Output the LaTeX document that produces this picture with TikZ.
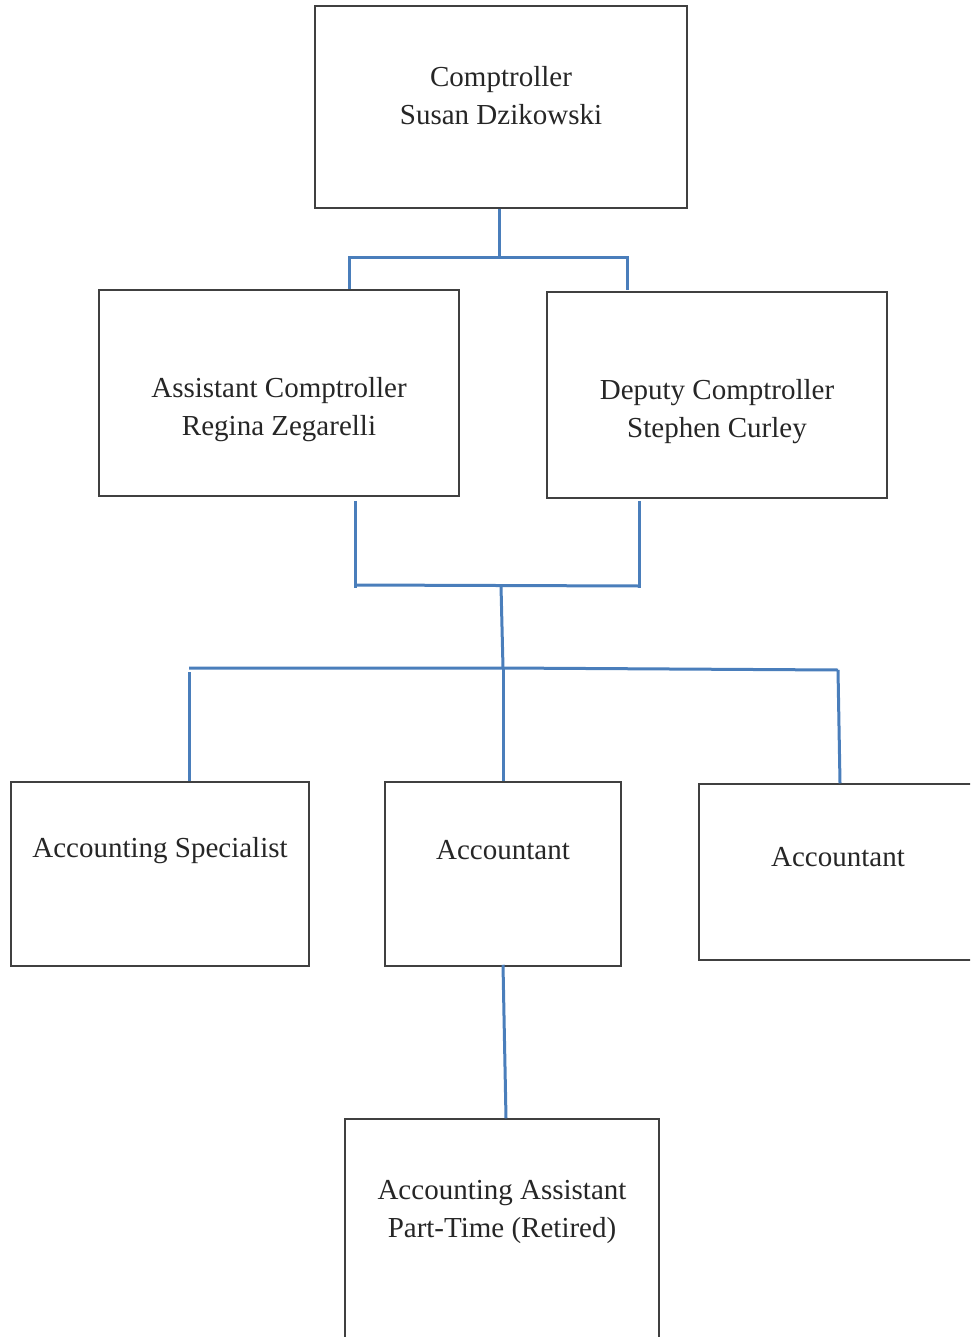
\documentclass[tikz,border=0pt]{standalone}
\usepackage{fontspec}
\setmainfont{Liberation Serif}
\usetikzlibrary{positioning}
\definecolor{linkblue}{RGB}{74,126,187}
\definecolor{boxgray}{RGB}{64,64,64}

\begin{document}
\begin{tikzpicture}[x=1pt, y=-1pt,
  post/.style={draw=boxgray, line width=1.5pt, inner sep=0pt, anchor=center},
  title/.style={font=\fontsize{29}{38}\selectfont, align=center, inner sep=0pt, text=black!85},
  link/.style={draw=linkblue, line width=3pt}]
\useasboundingbox (0,0) rectangle (970,1337);
\clip (0,0) rectangle (970,1337);

\node [post, minimum width=372pt, minimum height=202pt] (comp) at (501,107) {};
\node [post, minimum width=360pt, minimum height=206pt] (asst) at (279,393) {};
\node [post, minimum width=340pt, minimum height=206pt] (dep)  at (717,395) {};
\node [post, minimum width=298pt, minimum height=184pt] (spec) at (160,874) {};
\node [post, minimum width=236pt, minimum height=184pt] (accA) at (503,874) {};
\node [post, minimum width=278pt, minimum height=176pt] (accB) at (838,872) {};
\node [post, minimum width=314pt, minimum height=260pt] (part) at (502,1249) {};

\node [title] (compt) at (501,96)  {Comptroller\\Susan Dzikowski};
\node [title] (asstt) at (279,410) {Assistant Comptroller\\Regina Zegarelli};
\node [title] (dept)  at (717,412) {Deputy Comptroller\\Stephen Curley};
\node [title] (spect) at (160,851) {Accounting Specialist};
\node [title] (accAt) at (503,850) {Accountant};
\node [title] (accBt) at (838,857) {Accountant};
\node [title] (partt) at (502,1212) {Accounting Assistant\\Part-Time (Retired)};

% first level
\coordinate (j1) at (499,258);
\coordinate (b1l) at (349,258);
\coordinate (b1r) at (627,258);
\draw [link] (j1 |- comp.south) -- (j1);
\draw [link] (asst.north -| b1l) -- (b1l) -- (b1r) -- ([yshift=1pt]dep.north -| b1r);

% second level
\coordinate (c1) at (355,585);
\coordinate (c2) at (639,586);
\coordinate (m1) at (501,586);
\draw [link] ([yshift=-4pt]asst.south -| c1) -- ([yshift=-3pt]c1);
\draw [link] ([yshift=-2pt]dep.south -| c2) -- ([yshift=-2pt]c2);
\draw [link] (c1) -- (c2);

% third level
\coordinate (m2) at (503,668);
\coordinate (b3l) at (189,668);
\coordinate (b3r) at (838,670);
\draw [link] (m1) -- (m2);
\draw [link] (b3l) -- (m2) -- (b3r);
\draw [link] (b3l |- 0,672) -- (b3l |- spec.north);
\draw [link] (m2) -- (m2 |- accA.north);
\draw [link] (b3r) -- ([xshift=2pt]b3r |- accB.north);

% part-time assistant
\draw [link] ([yshift=2pt]accA.south) -- ([xshift=3pt]accA.south |- part.north);

\end{tikzpicture}
\end{document}
